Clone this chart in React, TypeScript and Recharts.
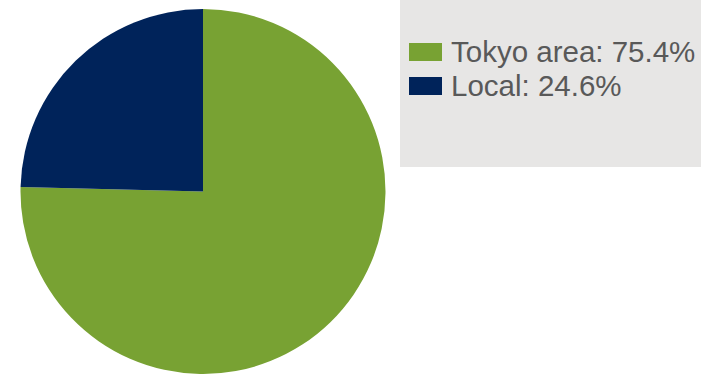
import { PieChart, Pie, Cell, Legend } from 'recharts';

const regions = ['Tokyo area', 'Local'];
const shares = [75.4, 24.6];
const colors = ['#78a233', '#00235a'];

const data = regions.map((name, i) => ({ name, value: shares[i] }));

function LegendBox({ payload }: any) {
  // keep the legend in data order
  const items = [...(payload || [])].sort(
    (a: any, b: any) => regions.indexOf(a.value) - regions.indexOf(b.value)
  );
  return (
    <div
      style={{
        width: 301,
        height: 167,
        background: '#e7e6e5',
        boxSizing: 'border-box',
        paddingTop: 35,
        paddingLeft: 9,
      }}
    >
      {items.map((entry: any, i: number) => (
        <div
          key={i}
          style={{ display: 'flex', alignItems: 'center', height: 34 }}
        >
          <span
            style={{
              display: 'inline-block',
              width: 33,
              height: 18,
              background: entry.color,
              marginRight: 9,
            }}
          />
          <span
            style={{
              fontFamily: '"Liberation Sans", Arial, sans-serif',
              fontSize: 29.5,
              color: '#595959',
              lineHeight: '34px',
            }}
          >
            {`${entry.value}: ${entry.payload.value.toFixed(1)}%`}
          </span>
        </div>
      ))}
    </div>
  );
}

export default function App() {
  return (
    <div style={{ position: 'absolute', left: 0, top: 0 }}>
      <PieChart width={711} height={374} margin={{ top: 0, right: 0, bottom: 0, left: 0 }}>
        <Pie
          data={data}
          dataKey="value"
          nameKey="name"
          cx={203}
          cy={191.5}
          outerRadius={182.5}
          startAngle={90}
          endAngle={-270}
          stroke="none"
          isAnimationActive={false}
        >
          {data.map((d, i) => (
            <Cell key={d.name} fill={colors[i]} />
          ))}
        </Pie>
        <Legend
          content={<LegendBox />}
          wrapperStyle={{ position: 'absolute', left: 400, top: 0, width: 301, height: 167 }}
        />
      </PieChart>
    </div>
  );
}
